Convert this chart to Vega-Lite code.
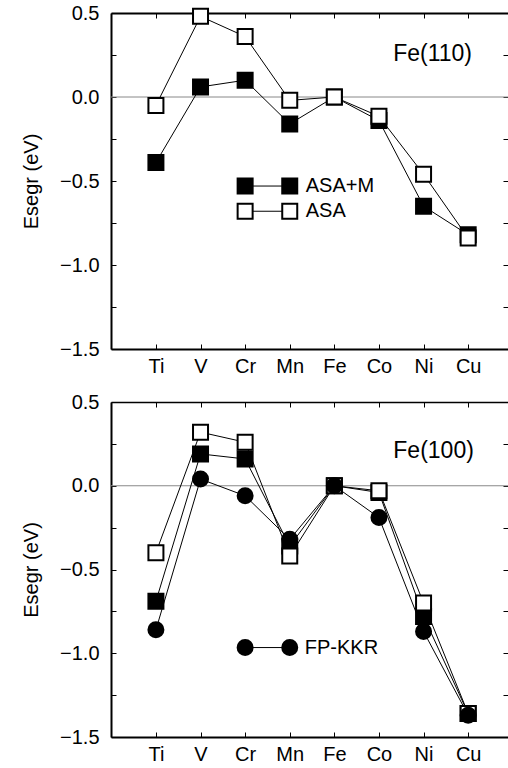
{
  "$schema": "https://vega.github.io/schema/vega-lite/v6.json",
  "padding": {"left": 21, "top": 3, "right": 0, "bottom": 0},
  "config": {"view": {"stroke": null}, "font": "Liberation Sans"},
  "spacing": 16,
  "datasets": {
    "zero": [{"v": 0}],
    "pts": [
      {"panel": "110", "method": "ASA+M", "grp": "data", "el": "Ti", "i": 0, "v": -0.39},
      {"panel": "110", "method": "ASA+M", "grp": "data", "el": "V", "i": 1, "v": 0.06},
      {"panel": "110", "method": "ASA+M", "grp": "data", "el": "Cr", "i": 2, "v": 0.10},
      {"panel": "110", "method": "ASA+M", "grp": "data", "el": "Mn", "i": 3, "v": -0.16},
      {"panel": "110", "method": "ASA+M", "grp": "data", "el": "Fe", "i": 4, "v": 0.0},
      {"panel": "110", "method": "ASA+M", "grp": "data", "el": "Co", "i": 5, "v": -0.14},
      {"panel": "110", "method": "ASA+M", "grp": "data", "el": "Ni", "i": 6, "v": -0.65},
      {"panel": "110", "method": "ASA+M", "grp": "data", "el": "Cu", "i": 7, "v": -0.82},
      {"panel": "110", "method": "ASA+M", "grp": "legend", "el": "Cr", "i": 2, "v": -0.53},
      {"panel": "110", "method": "ASA+M", "grp": "legend", "el": "Mn", "i": 3, "v": -0.53},
      {"panel": "110", "method": "ASA", "grp": "data", "el": "Ti", "i": 0, "v": -0.05},
      {"panel": "110", "method": "ASA", "grp": "data", "el": "V", "i": 1, "v": 0.48},
      {"panel": "110", "method": "ASA", "grp": "data", "el": "Cr", "i": 2, "v": 0.36},
      {"panel": "110", "method": "ASA", "grp": "data", "el": "Mn", "i": 3, "v": -0.02},
      {"panel": "110", "method": "ASA", "grp": "data", "el": "Fe", "i": 4, "v": 0.0},
      {"panel": "110", "method": "ASA", "grp": "data", "el": "Co", "i": 5, "v": -0.115},
      {"panel": "110", "method": "ASA", "grp": "data", "el": "Ni", "i": 6, "v": -0.46},
      {"panel": "110", "method": "ASA", "grp": "data", "el": "Cu", "i": 7, "v": -0.84},
      {"panel": "110", "method": "ASA", "grp": "legend", "el": "Cr", "i": 2, "v": -0.68},
      {"panel": "110", "method": "ASA", "grp": "legend", "el": "Mn", "i": 3, "v": -0.68},
      {"panel": "100", "method": "ASA+M", "grp": "data", "el": "Ti", "i": 0, "v": -0.69},
      {"panel": "100", "method": "ASA+M", "grp": "data", "el": "V", "i": 1, "v": 0.19},
      {"panel": "100", "method": "ASA+M", "grp": "data", "el": "Cr", "i": 2, "v": 0.16},
      {"panel": "100", "method": "ASA+M", "grp": "data", "el": "Mn", "i": 3, "v": -0.36},
      {"panel": "100", "method": "ASA+M", "grp": "data", "el": "Fe", "i": 4, "v": 0.0},
      {"panel": "100", "method": "ASA+M", "grp": "data", "el": "Co", "i": 5, "v": -0.04},
      {"panel": "100", "method": "ASA+M", "grp": "data", "el": "Ni", "i": 6, "v": -0.78},
      {"panel": "100", "method": "ASA+M", "grp": "data", "el": "Cu", "i": 7, "v": -1.36},
      {"panel": "100", "method": "ASA", "grp": "data", "el": "Ti", "i": 0, "v": -0.40},
      {"panel": "100", "method": "ASA", "grp": "data", "el": "V", "i": 1, "v": 0.32},
      {"panel": "100", "method": "ASA", "grp": "data", "el": "Cr", "i": 2, "v": 0.26},
      {"panel": "100", "method": "ASA", "grp": "data", "el": "Mn", "i": 3, "v": -0.42},
      {"panel": "100", "method": "ASA", "grp": "data", "el": "Fe", "i": 4, "v": 0.0},
      {"panel": "100", "method": "ASA", "grp": "data", "el": "Co", "i": 5, "v": -0.03},
      {"panel": "100", "method": "ASA", "grp": "data", "el": "Ni", "i": 6, "v": -0.70},
      {"panel": "100", "method": "ASA", "grp": "data", "el": "Cu", "i": 7, "v": -1.36},
      {"panel": "100", "method": "FP-KKR", "grp": "data", "el": "Ti", "i": 0, "v": -0.86},
      {"panel": "100", "method": "FP-KKR", "grp": "data", "el": "V", "i": 1, "v": 0.04},
      {"panel": "100", "method": "FP-KKR", "grp": "data", "el": "Cr", "i": 2, "v": -0.06},
      {"panel": "100", "method": "FP-KKR", "grp": "data", "el": "Mn", "i": 3, "v": -0.32},
      {"panel": "100", "method": "FP-KKR", "grp": "data", "el": "Fe", "i": 4, "v": 0.0},
      {"panel": "100", "method": "FP-KKR", "grp": "data", "el": "Co", "i": 5, "v": -0.19},
      {"panel": "100", "method": "FP-KKR", "grp": "data", "el": "Ni", "i": 6, "v": -0.87},
      {"panel": "100", "method": "FP-KKR", "grp": "data", "el": "Cu", "i": 7, "v": -1.37},
      {"panel": "100", "method": "FP-KKR", "grp": "legend", "el": "Cr", "i": 2, "v": -0.966},
      {"panel": "100", "method": "FP-KKR", "grp": "legend", "el": "Mn", "i": 3, "v": -0.966}
    ],
    "txt": [
      {"panel": "110", "kind": "legend", "el": "Mn", "v": -0.53, "text": "ASA+M"},
      {"panel": "110", "kind": "legend", "el": "Mn", "v": -0.68, "text": "ASA"},
      {"panel": "110", "kind": "title", "el": "Ni", "v": 0.256, "text": "Fe(110)"},
      {"panel": "100", "kind": "legend", "el": "Mn", "v": -0.966, "text": "FP-KKR"},
      {"panel": "100", "kind": "title", "el": "Ni", "v": 0.21, "text": "Fe(100)"}
    ]
  },
  "vconcat": [
    {
      "width": 397,
      "height": 336,
      "resolve": {"axis": {"x": "independent", "y": "independent"}},
      "layer": [
        {
          "data": {"name": "zero"},
          "mark": {"type": "rule", "color": "#888888", "strokeWidth": 1},
          "encoding": {"y": {"field": "v", "type": "quantitative", "axis": null, "scale": {"domain": [-1.5, 0.5], "nice": false, "zero": false}}}
        },
        {
          "data": {"name": "pts"},
          "transform": [{"filter": "datum.panel == '110'"}],
          "mark": {"type": "line", "color": "black", "strokeWidth": 1},
          "encoding": {
            "x": {"field": "el", "type": "ordinal", "scale": {"type": "point", "domain": ["Ti", "V", "Cr", "Mn", "Fe", "Co", "Ni", "Cu"], "padding": 0.95, "align": 0.53},
              "axis": {"orient": "bottom", "title": null, "labelAngle": 0, "tickSize": -5, "tickColor": "black", "domainColor": "black", "domainWidth": 2, "labelFont": "Liberation Sans", "labelFontSize": 20, "labelColor": "black", "labelPadding": 12}},
            "y": {"field": "v", "type": "quantitative", "scale": {"domain": [-1.5, 0.5], "nice": false, "zero": false},
              "axis": {"orient": "left", "grid": false, "values": [-1.5, -1.25, -1, -0.75, -0.5, -0.25, 0, 0.25, 0.5], "labelExpr": "abs(datum.value*2 - round(datum.value*2)) < 0.01 ? format(datum.value, '.1f') : ''", "tickSize": -5, "tickColor": "black", "domainColor": "black", "domainWidth": 2, "labelFont": "Liberation Sans", "labelFontSize": 20, "labelColor": "black", "labelPadding": 17, "title": "Esegr (eV)", "titleFont": "Liberation Sans", "titleFontSize": 20, "titleFontWeight": "normal", "titleColor": "black", "titlePadding": 18}},
            "detail": [{"field": "method"}, {"field": "grp"}],
            "order": {"field": "i", "type": "quantitative"}
          }
        },
        {
          "data": {"name": "pts"},
          "transform": [{"filter": "datum.panel == '110'"}],
          "mark": {"type": "point", "filled": false, "opacity": 1, "stroke": "black", "strokeWidth": 2, "size": 225},
          "encoding": {
            "x": {"field": "el", "type": "ordinal", "scale": {"type": "point", "domain": ["Ti", "V", "Cr", "Mn", "Fe", "Co", "Ni", "Cu"], "padding": 0.95, "align": 0.53},
              "axis": {"orient": "top", "title": null, "labels": false, "tickSize": -5, "tickColor": "black", "domainColor": "black", "domainWidth": 2}},
            "y": {"field": "v", "type": "quantitative", "scale": {"domain": [-1.5, 0.5], "nice": false, "zero": false},
              "axis": {"orient": "right", "grid": false, "title": null, "labels": false, "domain": false, "values": [-1.5, -1.25, -1, -0.75, -0.5, -0.25, 0, 0.25, 0.5], "tickSize": -5, "tickColor": "black"}},
            "shape": {"field": "method", "type": "nominal", "scale": {"domain": ["ASA+M", "ASA", "FP-KKR"], "range": ["square", "square", "circle"]}, "legend": null},
            "fill": {"field": "method", "type": "nominal", "scale": {"domain": ["ASA+M", "ASA", "FP-KKR"], "range": ["black", "white", "black"]}, "legend": null}
          }
        },
        {
          "data": {"name": "txt"},
          "transform": [{"filter": "datum.panel == '110' && datum.kind == 'legend'"}],
          "mark": {"type": "text", "align": "left", "baseline": "middle", "dx": 16, "fontSize": 20, "font": "Liberation Sans", "color": "black"},
          "encoding": {
            "x": {"field": "el", "type": "ordinal", "scale": {"type": "point", "domain": ["Ti", "V", "Cr", "Mn", "Fe", "Co", "Ni", "Cu"], "padding": 0.95, "align": 0.53}, "axis": null},
            "y": {"field": "v", "type": "quantitative", "scale": {"domain": [-1.5, 0.5], "nice": false, "zero": false}, "axis": null},
            "text": {"field": "text"}
          }
        },
        {
          "data": {"name": "txt"},
          "transform": [{"filter": "datum.panel == '110' && datum.kind == 'title'"}],
          "mark": {"type": "text", "align": "center", "baseline": "middle", "dx": 9, "fontSize": 23, "font": "Liberation Sans", "color": "black"},
          "encoding": {
            "x": {"field": "el", "type": "ordinal", "scale": {"type": "point", "domain": ["Ti", "V", "Cr", "Mn", "Fe", "Co", "Ni", "Cu"], "padding": 0.95, "align": 0.53}, "axis": null},
            "y": {"field": "v", "type": "quantitative", "scale": {"domain": [-1.5, 0.5], "nice": false, "zero": false}, "axis": null},
            "text": {"field": "text"}
          }
        }
      ]
    },
    {
      "width": 397,
      "height": 335,
      "resolve": {"axis": {"x": "independent", "y": "independent"}},
      "layer": [
        {
          "data": {"name": "zero"},
          "mark": {"type": "rule", "color": "#888888", "strokeWidth": 1},
          "encoding": {"y": {"field": "v", "type": "quantitative", "axis": null, "scale": {"domain": [-1.5, 0.5], "nice": false, "zero": false}}}
        },
        {
          "data": {"name": "pts"},
          "transform": [{"filter": "datum.panel == '100'"}],
          "mark": {"type": "line", "color": "black", "strokeWidth": 1},
          "encoding": {
            "x": {"field": "el", "type": "ordinal", "scale": {"type": "point", "domain": ["Ti", "V", "Cr", "Mn", "Fe", "Co", "Ni", "Cu"], "padding": 0.95, "align": 0.53},
              "axis": {"orient": "bottom", "title": null, "labelAngle": 0, "tickSize": -5, "tickColor": "black", "domainColor": "black", "domainWidth": 2, "labelFont": "Liberation Sans", "labelFontSize": 20, "labelColor": "black", "labelPadding": 12}},
            "y": {"field": "v", "type": "quantitative", "scale": {"domain": [-1.5, 0.5], "nice": false, "zero": false},
              "axis": {"orient": "left", "grid": false, "values": [-1.5, -1.25, -1, -0.75, -0.5, -0.25, 0, 0.25, 0.5], "labelExpr": "abs(datum.value*2 - round(datum.value*2)) < 0.01 ? format(datum.value, '.1f') : ''", "tickSize": -5, "tickColor": "black", "domainColor": "black", "domainWidth": 2, "labelFont": "Liberation Sans", "labelFontSize": 20, "labelColor": "black", "labelPadding": 17, "title": "Esegr (eV)", "titleFont": "Liberation Sans", "titleFontSize": 20, "titleFontWeight": "normal", "titleColor": "black", "titlePadding": 18}},
            "detail": [{"field": "method"}, {"field": "grp"}],
            "order": {"field": "i", "type": "quantitative"}
          }
        },
        {
          "data": {"name": "pts"},
          "transform": [{"filter": "datum.panel == '100'"}],
          "mark": {"type": "point", "filled": false, "opacity": 1, "stroke": "black", "strokeWidth": 2, "size": 225},
          "encoding": {
            "x": {"field": "el", "type": "ordinal", "scale": {"type": "point", "domain": ["Ti", "V", "Cr", "Mn", "Fe", "Co", "Ni", "Cu"], "padding": 0.95, "align": 0.53},
              "axis": {"orient": "top", "title": null, "labels": false, "tickSize": -5, "tickColor": "black", "domainColor": "black", "domainWidth": 1.5}},
            "y": {"field": "v", "type": "quantitative", "scale": {"domain": [-1.5, 0.5], "nice": false, "zero": false},
              "axis": {"orient": "right", "grid": false, "title": null, "labels": false, "domain": false, "values": [-1.5, -1.25, -1, -0.75, -0.5, -0.25, 0, 0.25, 0.5], "tickSize": -5, "tickColor": "black"}},
            "shape": {"field": "method", "type": "nominal", "scale": {"domain": ["ASA+M", "ASA", "FP-KKR"], "range": ["square", "square", "circle"]}, "legend": null},
            "fill": {"field": "method", "type": "nominal", "scale": {"domain": ["ASA+M", "ASA", "FP-KKR"], "range": ["black", "white", "black"]}, "legend": null}
          }
        },
        {
          "data": {"name": "txt"},
          "transform": [{"filter": "datum.panel == '100' && datum.kind == 'legend'"}],
          "mark": {"type": "text", "align": "left", "baseline": "middle", "dx": 15, "fontSize": 20, "font": "Liberation Sans", "color": "black"},
          "encoding": {
            "x": {"field": "el", "type": "ordinal", "scale": {"type": "point", "domain": ["Ti", "V", "Cr", "Mn", "Fe", "Co", "Ni", "Cu"], "padding": 0.95, "align": 0.53}, "axis": null},
            "y": {"field": "v", "type": "quantitative", "scale": {"domain": [-1.5, 0.5], "nice": false, "zero": false}, "axis": null},
            "text": {"field": "text"}
          }
        },
        {
          "data": {"name": "txt"},
          "transform": [{"filter": "datum.panel == '100' && datum.kind == 'title'"}],
          "mark": {"type": "text", "align": "center", "baseline": "middle", "dx": 10, "fontSize": 23, "font": "Liberation Sans", "color": "black"},
          "encoding": {
            "x": {"field": "el", "type": "ordinal", "scale": {"type": "point", "domain": ["Ti", "V", "Cr", "Mn", "Fe", "Co", "Ni", "Cu"], "padding": 0.95, "align": 0.53}, "axis": null},
            "y": {"field": "v", "type": "quantitative", "scale": {"domain": [-1.5, 0.5], "nice": false, "zero": false}, "axis": null},
            "text": {"field": "text"}
          }
        }
      ]
    }
  ]
}
